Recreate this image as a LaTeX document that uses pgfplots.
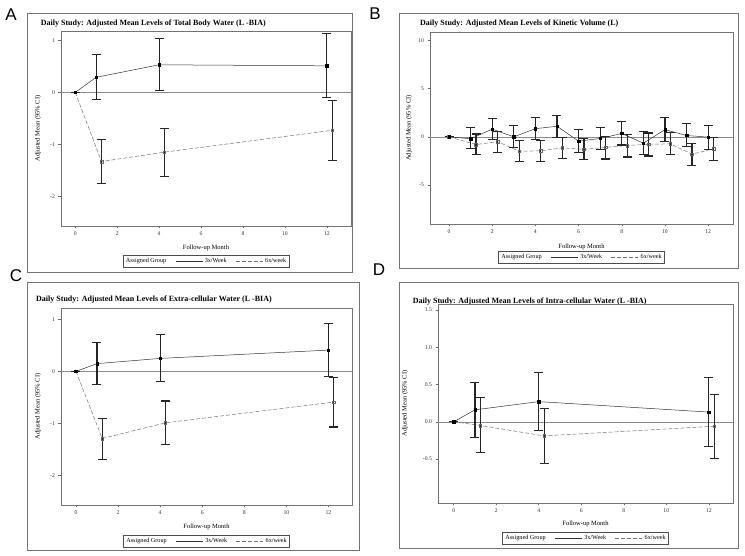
\documentclass[border=0pt]{standalone}
\usepackage{pgfplots}
\usepackage{pgfplotstable}
\pgfplotsset{compat=1.18}
\usepackage{fontspec}
\setmainfont{Liberation Serif}
\newfontfamily\lettersf{Liberation Sans}

% columns: x (month), y (mean), lo, hi (95% CI)
\pgfplotstableread{
x y lo hi
0 0 0 0
1 0.29 -0.14 0.72
4 0.53 0.04 1.04
12 0.51 -0.10 1.13
}\Athree
\pgfplotstableread{
x y lo hi
0 0 0 0
1.25 -1.33 -1.75 -0.90
4.25 -1.15 -1.62 -0.69
12.25 -0.73 -1.31 -0.15
}\Asix
\pgfplotstableread{
x y lo hi
0 0 0 0
1 -0.2 -1.2 1.0
2 0.8 -0.3 1.9
3 0.0 -1.1 1.2
4 0.85 -0.3 2.0
5 1.1 -0.05 2.25
6 -0.45 -1.65 0.75
7 -0.17 -1.35 0.97
8 0.35 -0.85 1.55
9 -0.66 -1.88 0.6
10 0.75 -0.5 2.0
11 0.14 -1.05 1.38
12 -0.03 -1.32 1.2
}\Bthree
\pgfplotstableread{
x y lo hi
0 0 0 0
1.25 -0.8 -1.8 0.3
2.25 -0.5 -1.6 0.6
3.25 -1.5 -2.55 -0.4
4.25 -1.45 -2.55 -0.35
5.25 -1.15 -2.25 -0.05
6.25 -1.3 -2.4 -0.15
7.25 -1.1 -2.3 0.05
8.25 -0.9 -2.1 0.28
9.25 -0.77 -1.99 0.4
10.25 -0.73 -1.88 0.45
11.25 -1.8 -2.98 -0.66
12.25 -1.25 -2.46 -0.1
}\Bsix
\pgfplotstableread{
x y lo hi
0 0 0 0
1 0.15 -0.25 0.55
4 0.25 -0.19 0.71
12 0.41 -0.10 0.93
}\Cthree
\pgfplotstableread{
x y lo hi
0 0 0 0
1.25 -1.29 -1.69 -0.91
4.25 -0.99 -1.41 -0.57
12.25 -0.59 -1.07 -0.12
}\Csix
\pgfplotstableread{
x y lo hi
0 0 0 0
1 0.16 -0.21 0.53
4 0.27 -0.12 0.66
12 0.13 -0.33 0.59
}\Dthree
\pgfplotstableread{
x y lo hi
0 0 0 0
1.25 -0.05 -0.41 0.32
4.25 -0.19 -0.56 0.18
12.25 -0.06 -0.49 0.37
}\Dsix

\pgfplotsset{
 panel/.style={
  scale only axis,
  axis line style={black!55, line width=0.6pt},
  tick pos=left, tick align=outside, major tick length=2.5pt,
  tick style={black!60, line width=0.5pt},
  xtick={0,2,...,12},
  ticklabel style={font=\fontsize{5.7}{6}\selectfont, text=black!80},
  /pgf/number format/assume math mode=true,
  xlabel={Follow-up Month}, ylabel={Adjusted Mean (95\% CI)},
  label style={font=\fontsize{6.5}{7}\selectfont},
  legend columns=-1,
  legend style={draw=black!70, line width=0.5pt, font=\fontsize{6.2}{7}\selectfont,
    anchor=center, inner sep=1pt,
    /tikz/every even column/.append style={column sep=7pt}},
  legend image code/.code={\draw[##1] (0pt,0pt) -- (27pt,0pt);},
 },
 ebars/.style={
   error bars/y dir=both, error bars/y explicit, error bars/error mark=|,
   error bars/error bar style={black!85, line width=1.1pt, solid},
   error bars/error mark options={mark size=4.5pt, line width=1.1pt, black!85, solid}},
 three/.style={black!80, line width=0.5pt, mark=square*, mark size=1.2pt,
   mark options={solid, fill=black, draw=black}, ebars},
 six/.style={black!55, line width=0.5pt, dash pattern=on 4pt off 2pt, mark=square, mark size=1.3pt,
   mark options={solid, draw=black!60, fill=white}, ebars},
}

\begin{document}
\begin{tikzpicture}[x=1pt,y=1pt]
\fill[white] (0,0) rectangle (745,556);

% ---------- Panel A ----------
\draw[black!55, line width=0.7pt] (27,284) rectangle (352,543);
\node[anchor=west, font=\fontsize{8}{9}\selectfont\bfseries, inner sep=0] at (40.7,532) {Daily Study: Adjusted Mean Levels of Total Body Water (L -BIA)};
\node[font=\lettersf\fontsize{17}{18}\selectfont, inner sep=0] at (11,541) {A};
\begin{axis}[panel, at={(61pt,330pt)}, anchor=south west, width=290pt, height=195pt,
  xmin=-0.68, xmax=13.15, ymin=-2.57, ymax=1.18, ytick={-2,-1,0,1},
  xlabel style={at={(axis description cs:0.5,-0.114)}, anchor=center},
  ylabel style={at={(axis description cs:-0.079,0.5)}, anchor=center},
  legend style={at={(axis description cs:0.5,-0.18)}}]
\addplot[black!45, line width=0.5pt, forget plot] coordinates {(-0.68,0) (13.15,0)};
\addplot[six, forget plot] table[x=x, y=y, y error plus expr=\thisrow{hi}-\thisrow{y}, y error minus expr=\thisrow{y}-\thisrow{lo}] {\Asix};
\addplot[three, forget plot] table[x=x, y=y, y error plus expr=\thisrow{hi}-\thisrow{y}, y error minus expr=\thisrow{y}-\thisrow{lo}] {\Athree};
\addlegendimage{empty legend}\addlegendentry{Assigned Group}
\addlegendimage{black!80, line width=0.5pt}\addlegendentry{3x/Week}
\addlegendimage{black!55, line width=0.5pt, dash pattern=on 4pt off 2pt}\addlegendentry{6x/week}
\end{axis}

% ---------- Panel B ----------
\draw[black!55, line width=0.7pt] (399,288) rectangle (738,543);
\node[anchor=west, font=\fontsize{8}{9}\selectfont\bfseries, inner sep=0] at (420,532) {Daily Study: Adjusted Mean Levels of Kinetic Volume (L)};
\node[font=\lettersf\fontsize{17}{18}\selectfont, inner sep=0] at (375,542) {B};
\begin{axis}[panel, at={(430pt,332pt)}, anchor=south west, width=303pt, height=192pt,
  xmin=-0.88, xmax=13.15, ymin=-9.06, ymax=10.9, ytick={-5,0,5,10},
  xlabel style={at={(axis description cs:0.5,-0.118)}, anchor=center},
  ylabel style={at={(axis description cs:-0.069,0.5)}, anchor=center},
  legend style={at={(axis description cs:0.5,-0.173)}}]
\addplot[black!45, line width=0.5pt, forget plot] coordinates {(-0.88,0) (13.15,0)};
\addplot[six, forget plot] table[x=x, y=y, y error plus expr=\thisrow{hi}-\thisrow{y}, y error minus expr=\thisrow{y}-\thisrow{lo}] {\Bsix};
\addplot[three, forget plot] table[x=x, y=y, y error plus expr=\thisrow{hi}-\thisrow{y}, y error minus expr=\thisrow{y}-\thisrow{lo}] {\Bthree};
\addlegendimage{empty legend}\addlegendentry{Assigned Group}
\addlegendimage{black!80, line width=0.5pt}\addlegendentry{3x/Week}
\addlegendimage{black!55, line width=0.5pt, dash pattern=on 4pt off 2pt}\addlegendentry{6x/week}
\end{axis}

% ---------- Panel C ----------
\draw[black!55, line width=0.7pt] (27,6) rectangle (359,274);
\node[anchor=west, font=\fontsize{8}{9}\selectfont\bfseries, inner sep=0] at (36,256) {Daily Study: Adjusted Mean Levels of Extra-cellular Water (L -BIA)};
\node[font=\lettersf\fontsize{17}{18}\selectfont, inner sep=0] at (16,280) {C};
\begin{axis}[panel, at={(61pt,51pt)}, anchor=south west, width=291pt, height=197pt,
  xmin=-0.71, xmax=13.12, ymin=-2.57, ymax=1.22, ytick={-2,-1,0,1},
  xlabel style={at={(axis description cs:0.5,-0.113)}, anchor=center},
  ylabel style={at={(axis description cs:-0.079,0.5)}, anchor=center},
  legend style={at={(axis description cs:0.5,-0.183)}}]
\addplot[black!45, line width=0.5pt, forget plot] coordinates {(-0.71,0) (13.12,0)};
\addplot[six, forget plot] table[x=x, y=y, y error plus expr=\thisrow{hi}-\thisrow{y}, y error minus expr=\thisrow{y}-\thisrow{lo}] {\Csix};
\addplot[three, forget plot] table[x=x, y=y, y error plus expr=\thisrow{hi}-\thisrow{y}, y error minus expr=\thisrow{y}-\thisrow{lo}] {\Cthree};
\addlegendimage{empty legend}\addlegendentry{Assigned Group}
\addlegendimage{black!80, line width=0.5pt}\addlegendentry{3x/Week}
\addlegendimage{black!55, line width=0.5pt, dash pattern=on 4pt off 2pt}\addlegendentry{6x/week}
\end{axis}

% ---------- Panel D ----------
\draw[black!55, line width=0.7pt] (399,8) rectangle (738,274);
\node[anchor=west, font=\fontsize{8}{9}\selectfont\bfseries, inner sep=0] at (412.7,254) {Daily Study: Adjusted Mean Levels of Intra-cellular Water (L -BIA)};
\node[font=\lettersf\fontsize{17}{18}\selectfont, inner sep=0] at (379,286) {D};
\begin{axis}[panel, at={(438pt,53pt)}, anchor=south west, width=295pt, height=199pt,
  xmin=-0.74, xmax=13.14, ymin=-1.09, ymax=1.58, ytick={-0.5,0,0.5,1,1.5},
  yticklabel style={/pgf/number format/.cd, fixed, fixed zerofill, precision=1},
  xlabel style={at={(axis description cs:0.5,-0.105)}, anchor=center},
  ylabel style={at={(axis description cs:-0.112,0.5)}, anchor=center},
  legend style={at={(axis description cs:0.5,-0.177)}}]
\addplot[black!45, line width=0.5pt, forget plot] coordinates {(-0.74,0) (13.14,0)};
\addplot[six, forget plot] table[x=x, y=y, y error plus expr=\thisrow{hi}-\thisrow{y}, y error minus expr=\thisrow{y}-\thisrow{lo}] {\Dsix};
\addplot[three, forget plot] table[x=x, y=y, y error plus expr=\thisrow{hi}-\thisrow{y}, y error minus expr=\thisrow{y}-\thisrow{lo}] {\Dthree};
\addlegendimage{empty legend}\addlegendentry{Assigned Group}
\addlegendimage{black!80, line width=0.5pt}\addlegendentry{3x/Week}
\addlegendimage{black!55, line width=0.5pt, dash pattern=on 4pt off 2pt}\addlegendentry{6x/week}
\end{axis}
\end{tikzpicture}
\end{document}
